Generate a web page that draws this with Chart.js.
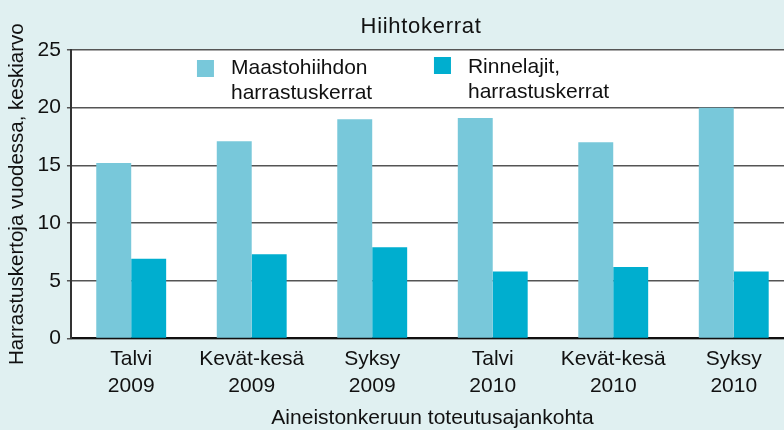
<!DOCTYPE html>
<html>
<head>
<meta charset="utf-8">
<script src="https://cdn.jsdelivr.net/npm/chart.js@4/dist/chart.umd.min.js"></script>
<style>
    html, body { margin: 0; padding: 0; overflow: hidden; background: #e0f0f1; }
    #wrap { position: relative; width: 794px; height: 430px; }
</style>
</head>
<body>
<div id="wrap"><canvas id="hiihto-chart"></canvas></div>
<script>
// Data
const categories = [
    ['Talvi', '2009'], ['Kevät-kesä', '2009'], ['Syksy', '2009'],
    ['Talvi', '2010'], ['Kevät-kesä', '2010'], ['Syksy', '2010']
];
const maastohiihtoValues = [15.2, 17.1, 19.0, 19.1, 17.0, 20.0];
const rinnelajitValues = [6.9, 7.3, 7.9, 5.8, 6.2, 5.8];
const seriesLabels = [
    ['Maastohiihdon', 'harrastuskerrat'],
    ['Rinnelajit,', 'harrastuskerrat']
];
const yTickMax = 25;
const yTickStep = 5;
const chartTitle = 'Hiihtokerrat';
const yAxisTitle = 'Harrastuskertoja vuodessa, keskiarvo';
const xAxisTitle = 'Aineistonkeruun toteutusajankohta';

const FONT = '"Liberation Sans", Arial, sans-serif';
const lightBlue = '#78c8da';
const darkBlue = '#00aecf';

// White plot background, title and the two-line legend inside the plot
const decorPlugin = {
    id: 'decor',
    beforeDraw(chart) {
        const {ctx, chartArea} = chart;
        ctx.save();
        ctx.fillStyle = '#ffffff';
        ctx.fillRect(chartArea.left, chartArea.top, chartArea.right - chartArea.left, chartArea.bottom - chartArea.top);
        ctx.restore();
    },
    afterDraw(chart) {
        const {ctx, chartArea} = chart;
        ctx.save();
        ctx.font = '22px ' + FONT;
        ctx.letterSpacing = '0.7px';
        ctx.fillStyle = '#111111';
        ctx.textAlign = 'center';
        ctx.textBaseline = 'alphabetic';
        ctx.fillText(chartTitle, 421, 33);

        ctx.letterSpacing = '0px';
        ctx.font = '21px ' + FONT;
        const items = [
            {color: lightBlue, box: [126, 10], text: [160, 24]},
            {color: darkBlue, box: [363, 7], text: [397, 23]}
        ];
        ctx.textAlign = 'left';
        items.forEach((item, i) => {
            ctx.fillStyle = item.color;
            ctx.fillRect(chartArea.left + item.box[0], chartArea.top + item.box[1], 17, 17);
            ctx.fillStyle = '#111111';
            seriesLabels[i].forEach((line, j) => {
                ctx.fillText(line, chartArea.left + item.text[0], chartArea.top + item.text[1] + j * 25);
            });
        });
        ctx.restore();
    }
};

new Chart(document.getElementById('hiihto-chart'), {
    type: 'bar',
    data: {
        labels: categories,
        datasets: [
            {
                label: seriesLabels[0].join(' '),
                data: maastohiihtoValues,
                backgroundColor: lightBlue,
                barPercentage: 1,
                categoryPercentage: 0.58
            },
            {
                label: seriesLabels[1].join(' '),
                data: rinnelajitValues,
                backgroundColor: darkBlue,
                barPercentage: 1,
                categoryPercentage: 0.58
            }
        ]
    },
    plugins: [decorPlugin],
    options: {
        responsive: true,
        maintainAspectRatio: false,
        animation: false,
        layout: {
            padding: {top: 50, right: 0, left: 5, bottom: 0}
        },
        plugins: {
            legend: {display: false},
            title: {display: false},
            tooltip: {enabled: false}
        },
        scales: {
            x: {
                grid: {display: false, drawTicks: false},
                border: {display: true, color: '#111111', width: 2},
                ticks: {
                    color: '#111111',
                    font: {family: FONT, size: 21, lineHeight: 1.25},
                    padding: 8,
                    maxRotation: 0
                },
                title: {
                    display: true,
                    text: xAxisTitle,
                    color: '#111111',
                    font: {family: FONT, size: 21, lineHeight: 1.1},
                    padding: {top: 0, bottom: 0}
                }
            },
            y: {
                min: 0,
                max: yTickMax,
                ticks: {
                    stepSize: yTickStep,
                    color: '#111111',
                    font: {family: FONT, size: 21},
                    padding: 6
                },
                grid: {
                    color: '#555555',
                    lineWidth: 1.5,
                    tickLength: 4,
                    drawTicks: true
                },
                border: {display: true, color: '#333333', width: 2},
                title: {
                    display: true,
                    text: yAxisTitle,
                    color: '#111111',
                    font: {family: FONT, size: 20.5},
                    padding: {top: 0, bottom: 2}
                }
            }
        }
    }
});
</script>
</body>
</html>
